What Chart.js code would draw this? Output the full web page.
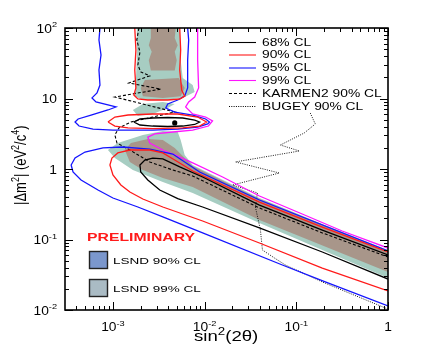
<!DOCTYPE html>
<html lang="en">
<head>
<meta charset="UTF-8" />
<script src="https://cdn.jsdelivr.net/npm/chart.js"></script>
<style>
  body { margin: 0; background: #fff; }
  #wrap { width: 431px; height: 354px; }
</style>
</head>
<body>
<div id="wrap"><canvas id="chart" width="431" height="354"></canvas></div>
<script>
// points are [sin^2(2θ), Δm^2 in eV^2/c^4]

// LSND allowed regions (filled)
const lsnd99Upper = [[1.82e-3,100],[5.35e-3,100],[5.48e-3,35.2],[5.77e-3,19.5],[7.41e-3,15.5],[7.79e-3,12.4],[6.06e-3,10.5],[3.96e-3,9.52],[2.12e-3,9.52],[1.73e-3,10.8],[1.78e-3,18.3],[1.82e-3,35.2]];
const lsnd99Mid = [[1.65e-3,6.87],[2.12e-3,8.36],[3.50e-3,8.92],[4.72e-3,8.36],[3.96e-3,7.33],[2.72e-3,6.03],[1.87e-3,5.65]];
const lsnd99Low = [[8.82e-4,1.86],[1.13e-3,2.34],[2.12e-3,3.04],[3.50e-3,3.46],[5.09e-3,3.35],[5.48e-3,2.58],[6.06e-3,1.58],[7.41e-3,1.14],[3.96e-2,0.388],[0.192,0.166],[1,0.071],[1,0.0284],[0.192,0.071],[3.96e-2,0.171],[7.41e-3,0.457],[3.50e-3,0.654],[1.65e-3,0.968],[1.05e-3,1.43]];
const lsnd90UpperA = [[2.59e-3,100],[4.84e-3,100],[4.72e-3,72],[5.09e-3,57],[4.72e-3,46],[4.96e-3,35],[4.72e-3,25],[2.59e-3,25],[2.46e-3,35],[2.65e-3,46],[2.46e-3,57],[2.59e-3,72]];
const lsnd90UpperB = [[2.23e-3,18.3],[5.21e-3,19.5],[6.06e-3,14.1],[5.48e-3,10.8],[3.50e-3,10.2],[2.12e-3,10.8],[2.01e-3,14.1]];
const lsnd90Low = [[1.35e-3,1.86],[1.57e-3,2.34],[2.40e-3,2.66],[3.50e-3,2.58],[4.72e-3,1.99],[7.41e-3,1.10],[3.96e-2,0.375],[1,0.0687],[1,0.0346],[3.96e-2,0.189],[7.41e-3,0.556],[3.50e-3,0.745],[2.12e-3,0.968],[1.53e-3,1.26]];

// confidence contours
const cl68Mid = [[1.69e-3,4.64],[1.97e-3,5.12],[2.72e-3,5.29],[3.96e-3,5.38],[5.77e-3,5.29],[7.79e-3,4.95],[8.82e-3,4.64],[7.79e-3,4.28],[5.77e-3,4.07],[3.96e-3,4.01],[2.72e-3,4.07],[1.97e-3,4.21],[1.69e-3,4.64]];
const cl68Low = [[1,0.0603],[0.192,0.136],[3.96e-2,0.308],[9.51e-3,0.770],[5.35e-3,1.07],[3.50e-3,1.39],[2.72e-3,1.43],[2.23e-3,1.34],[1.97e-3,1.14],[2.01e-3,0.906],[2.40e-3,0.698],[3.24e-3,0.504],[5.09e-3,0.38],[9.51e-3,0.289],[3.96e-2,0.146],[0.192,0.0665],[1,0.0275]];
const cl90Upper = [[1.73e-3,100],[1.78e-3,48.7],[1.73e-3,25.4],[1.78e-3,14.1],[1.69e-3,11.2],[1.87e-3,9.84],[2.40e-3,9.52],[3.96e-3,9.52],[5.35e-3,9.84],[6.06e-3,10.8],[5.62e-3,13.2],[5.35e-3,25.4],[5.48e-3,48.7],[5.35e-3,100]];
const cl90Mid = [[8.82e-4,4.64],[1.05e-3,5.46],[1.46e-3,5.83],[2.72e-3,6.03],[5.09e-3,6.03],[8.39e-3,5.46],[1.05e-2,4.64],[8.82e-3,4.07],[5.77e-3,3.82],[2.72e-3,3.75],[1.46e-3,3.82],[1.05e-3,4.07],[8.82e-4,4.64]];
const cl90Low = [[1,0.0186],[0.192,0.0394],[3.96e-2,0.0892],[9.51e-3,0.183],[3.50e-3,0.289],[2.12e-3,0.375],[1.53e-3,0.472],[1.22e-3,0.593],[1.0e-3,0.822],[9.27e-4,1.14],[9.75e-4,1.43],[1.13e-3,1.69],[1.53e-3,1.86],[2.52e-3,1.86],[3.50e-3,1.69],[4.72e-3,1.34],[7.41e-3,0.937],[3.96e-2,0.340],[0.192,0.150],[1,0.0665]];
const cl95Upper = [[7.22e-4,100],[7.04e-4,67.6],[7.41e-4,41.4],[7.04e-4,25.4],[7.22e-4,15.5],[6.70e-4,12.0],[5.91e-4,10.2],[6.53e-4,8.92],[8.82e-4,8.09],[1.078e-3,7.58],[8.82e-4,6.87],[5.77e-4,5.83],[4.17e-4,5.12],[3.86e-4,4.64],[4.27e-4,4.07],[6.06e-4,3.69],[1.0e-3,3.57],[1.65e-3,3.57],[2.72e-3,3.57],[5.09e-3,3.69],[8.39e-3,3.94],[1.08e-2,4.35],[1.13e-2,4.64],[1.026e-2,5.12],[7.41e-3,5.83],[4.72e-3,6.43],[3.77e-3,7.33],[3.96e-3,8.36],[5.09e-3,9.52],[6.06e-3,10.8],[6.53e-3,14.1],[6.53e-3,35.2],[6.70e-3,67.6],[6.53e-3,100]];
const cl95Low = [[1,0.0687],[3.96e-2,0.363],[8.82e-3,0.906],[4.49e-3,1.63],[2.52e-3,1.92],[1.28e-3,2.05],[7.79e-4,1.99],[4.96e-4,1.74],[3.86e-4,1.43],[3.50e-4,1.14],[3.67e-4,0.906],[4.49e-4,0.698],[6.87e-4,0.504],[1.0e-3,0.388],[1.87e-3,0.289],[3.50e-3,0.209],[9.51e-3,0.124],[7.04e-2,0.0435],[0.207,0.025],[1,0.0114]];
const cl99 = [[8.39e-3,100],[8.39e-3,35.2],[8.60e-3,14.1],[7.79e-3,10.5],[6.70e-3,8.92],[6.21e-3,7.58],[7.41e-3,6.03],[1.026e-2,5.46],[1.22e-2,4.80],[1.10e-2,4.07],[7.41e-3,3.57],[4.49e-3,3.35],[2.86e-3,3.14],[2.40e-3,2.84],[2.52e-3,2.34],[3.50e-3,1.86],[5.09e-3,1.53],[7.41e-3,1.22],[1.57e-2,0.770],[3.96e-2,0.414],[0.116,0.230],[0.316,0.132],[1,0.0757]];

// exclusion limits
const karmen90 = [[1.92e-3,100],[1.82e-3,67.6],[1.97e-3,45.7],[1.87e-3,29.9],[2.01e-3,23.8],[2.52e-3,20.9],[1.49e-3,16.6],[3.32e-3,13.6],[1.05e-3,10.5],[2.12e-3,8.36],[4.72e-3,6.43],[2.72e-3,5.46],[1.57e-3,4.64],[1.16e-3,3.82],[1.05e-3,3.04],[1.105e-3,2.34],[1.53e-3,1.86],[2.52e-3,1.26],[4.49e-3,0.968],[7.41e-3,0.796],[3.96e-2,0.280],[0.192,0.124],[1,0.0565]];
const bugey90 = [[0.142,6.23],[0.161,4.35],[0.122,3.24],[0.067,2.19],[0.108,1.80],[0.0217,1.26],[0.0653,0.877],[0.0202,0.593],[0.0377,0.457],[0.0358,0.289],[0.0406,0.136],[0.0427,0.071],[0.0577,0.0547],[0.0759,0.0435],[0.192,0.025],[1,0.0103]];

const bestFit = [[4.72e-3, 4.5]];

// axes and labels
const xRange = [3.24e-4, 1];
const yRange = [1e-2, 100];
const xTickValues = [1e-3, 1e-2, 1e-1, 1];
const xTickLabels = [['10', '-3'], ['10', '-2'], ['10', '-1'], ['1', '']];
const yTickValues = [1e-2, 1e-1, 1, 10, 100];
const yTickLabels = [['10', '-2'], ['10', '-1'], ['1', ''], ['10', ''], ['10', '2']];
const clNames = ['68% CL', '90% CL', '95% CL', '99% CL'];
const limitNames = ['KARMEN2 90% CL', 'BUGEY 90% CL'];
const lsndNames = ['LSND 90% CL', 'LSND 99% CL'];

const RED = '#ff1a1a', BLUE = '#1414ff', MAG = '#ff14ff', BLACK = '#000';
const TEAL = '#a7cdc2', BROWN = '#a8968a';
const FONT = '"Liberation Sans", Arial, sans-serif';

const pts = arr => arr.map(([x, y]) => ({ x, y }));
// higher order is painted first: teal under brown under the lines
const fillSet = (d, c, order) => ({ data: pts(d), backgroundColor: c, borderColor: 'rgba(0,0,0,0)', borderWidth: 1, fill: 'shape', pointRadius: 0, order });
const lineSet = (d, c, extra) => Object.assign({ data: pts(d), borderColor: c, borderWidth: 1.3, fill: false, pointRadius: 0, order: 2 }, extra || {});

function richWidth(ctx, parts, size, weight) {
  let w = 0;
  for (const [t, sup] of parts) {
    ctx.font = (weight || '') + ' ' + (sup ? Math.round(size * 0.7) : size) + 'px ' + FONT;
    w += ctx.measureText(t).width;
  }
  return w;
}

// draws text with superscripts, stretched horizontally by sx; y is the baseline
function drawRich(ctx, parts, x, y, size, sx, align, color, weight) {
  ctx.save();
  ctx.translate(x, y);
  ctx.scale(sx, 1);
  ctx.fillStyle = color || '#000';
  ctx.textAlign = 'left';
  ctx.textBaseline = 'alphabetic';
  const w = richWidth(ctx, parts, size, weight);
  let cx = align === 'right' ? -w : align === 'center' ? -w / 2 : 0;
  for (const [t, sup] of parts) {
    const s = sup ? Math.round(size * 0.7) : size;
    ctx.font = (weight || '') + ' ' + s + 'px ' + FONT;
    ctx.fillText(t, cx, sup ? -size * 0.42 : 0);
    cx += ctx.measureText(t).width;
  }
  ctx.restore();
}

const decor = {
  id: 'decor',
  afterDatasetsDraw(chart) {
    const { ctx, chartArea: a, scales: { x, y } } = chart;
    ctx.save();

    // inward ticks on all four sides
    ctx.strokeStyle = '#000';
    ctx.lineWidth = 1;
    ctx.beginPath();
    for (let d = -2; d <= 2; d++) {
      for (let m = 1; m <= 9; m++) {
        const v = m * Math.pow(10, d);
        if (v > yRange[1] * 1.0001) break;
        const py = Math.round(y.getPixelForValue(v)) + 0.5;
        const len = m === 1 ? 8 : 4;
        ctx.moveTo(a.left, py); ctx.lineTo(a.left + len, py);
        ctx.moveTo(a.right, py); ctx.lineTo(a.right - len, py);
      }
    }
    for (let d = -4; d <= 0; d++) {
      for (let m = 1; m <= 9; m++) {
        const v = m * Math.pow(10, d);
        if (v < xRange[0] || v > xRange[1] * 1.0001) continue;
        const px = Math.round(x.getPixelForValue(v)) + 0.5;
        const len = m === 1 ? 8 : 4;
        ctx.moveTo(px, a.bottom); ctx.lineTo(px, a.bottom - len);
        ctx.moveTo(px, a.top); ctx.lineTo(px, a.top + len);
      }
    }
    ctx.stroke();

    // frame
    ctx.lineWidth = 1.6;
    ctx.strokeRect(a.left, a.top, a.right - a.left, a.bottom - a.top);

    // tick labels
    yTickValues.forEach((v, i) => {
      const [b, e] = yTickLabels[i];
      drawRich(ctx, [[b, false], [e, true]], a.left - 8, y.getPixelForValue(v) + 4.5, 12, 1.15, 'right');
    });
    xTickValues.forEach((v, i) => {
      const [b, e] = xTickLabels[i];
      drawRich(ctx, [[b, false], [e, true]], x.getPixelForValue(v), a.bottom + 21, 12, 1.15, 'center');
    });

    // axis titles
    drawRich(ctx, [['sin', false], ['2', true], ['(2θ)', false]], 194, 341, 14, 1.33, 'left');
    ctx.save();
    ctx.translate(26, 205);
    ctx.rotate(-Math.PI / 2);
    ctx.scale(1, 1.2);
    drawRich(ctx, [['|Δm', false], ['2', true], ['| (eV', false], ['2', true], ['/c', false], ['4', true], [')', false]], 0, 0, 13, 1, 'left');
    ctx.restore();

    // line legend, top right
    const rows = clNames.concat(limitNames);
    const colors = [BLACK, RED, BLUE, MAG, BLACK, BLACK];
    const dashes = [[], [], [], [], [3, 2], [1, 1.3]];
    const rowY = [42, 54.5, 67.5, 80, 93, 106];
    rows.forEach((name, i) => {
      ctx.beginPath();
      ctx.setLineDash(dashes[i]);
      ctx.strokeStyle = colors[i];
      ctx.lineWidth = 1.1;
      ctx.moveTo(229, rowY[i] + 0.5); ctx.lineTo(256, rowY[i] + 0.5);
      ctx.stroke();
      drawRich(ctx, [[name, false]], 262, rowY[i] + 3.8, 10, 1.38, 'left');
    });
    ctx.setLineDash([]);

    // preliminary and LSND boxes
    drawRich(ctx, [['PRELIMINARY', false]], 87, 241, 10.5, 1.5, 'left', '#ff1a1a', 'bold');
    const boxFill = ['#7b97cd', '#aabbc4'];
    const boxY = [251, 279];
    lsndNames.forEach((name, i) => {
      ctx.fillStyle = boxFill[i];
      ctx.fillRect(89.5, boxY[i] + 0.5, 18, 17);
      ctx.strokeStyle = '#222';
      ctx.lineWidth = 1.4;
      ctx.strokeRect(89.5, boxY[i] + 0.5, 18, 17);
      drawRich(ctx, [[name, false]], 113, boxY[i] + 12.5, 9.5, 1.42, 'left');
    });

    ctx.restore();
  }
};

new Chart(document.getElementById('chart'), {
  type: 'line',
  data: {
    datasets: [
      fillSet(lsnd99Upper, TEAL, 20),
      fillSet(lsnd99Mid, TEAL, 20),
      fillSet(lsnd99Low, TEAL, 20),
      fillSet(lsnd90UpperA, BROWN, 10),
      fillSet(lsnd90UpperB, BROWN, 10),
      fillSet(lsnd90Low, BROWN, 10),
      lineSet(cl68Mid, BLACK),
      lineSet(cl68Low, BLACK),
      lineSet(cl90Upper, RED),
      lineSet(cl90Mid, RED),
      lineSet(cl90Low, RED),
      lineSet(cl95Upper, BLUE),
      lineSet(cl95Low, BLUE),
      lineSet(cl99, MAG),
      lineSet(karmen90, BLACK, { borderDash: [3, 2], borderWidth: 1.1 }),
      lineSet(bugey90, BLACK, { borderDash: [1, 1.3], borderWidth: 0.9 }),
      lineSet(bestFit, BLACK, { showLine: false, pointRadius: 2.6, pointBackgroundColor: BLACK, pointBorderWidth: 0, order: 0 })
    ]
  },
  options: {
    responsive: false,
    animation: false,
    events: [],
    layout: { padding: { left: 65, top: 28, right: 43, bottom: 44 } },
    elements: { line: { tension: 0 } },
    plugins: { legend: { display: false }, tooltip: { enabled: false } },
    scales: {
      x: { type: 'logarithmic', min: xRange[0], max: xRange[1], display: false },
      y: { type: 'logarithmic', min: yRange[0], max: yRange[1], display: false }
    }
  },
  plugins: [decor]
});
</script>
</body>
</html>
